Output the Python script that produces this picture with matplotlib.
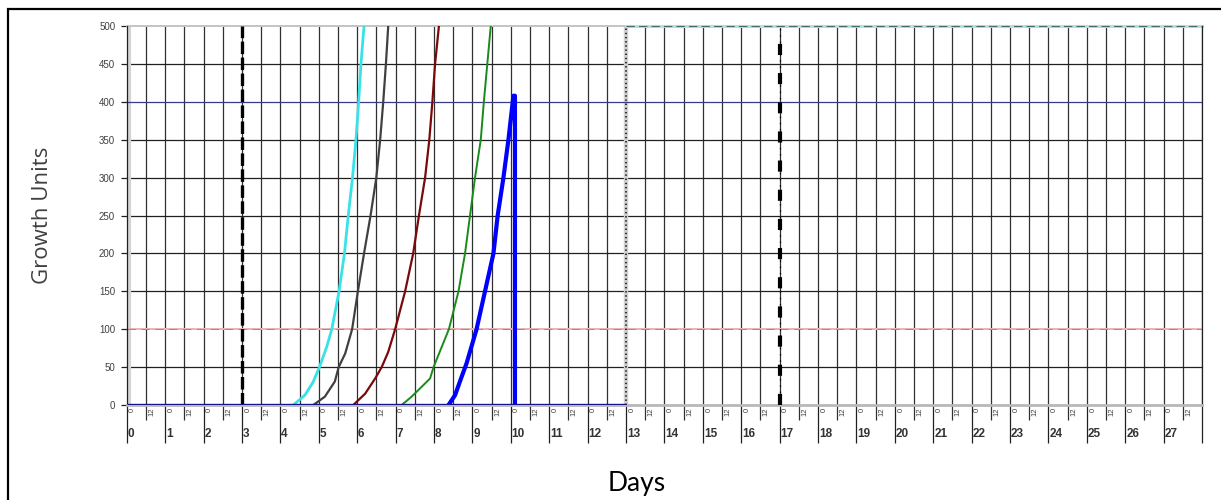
import numpy as np
import matplotlib
matplotlib.use("Agg")
import matplotlib.pyplot as plt
from matplotlib.patches import Rectangle
from matplotlib.transforms import offset_copy, ScaledTranslation

plt.rcParams["lines.scale_dashes"] = False

# growth curves: day of reading -> growth units
cyan_days = [4.34, 4.64, 4.85, 5.02, 5.21, 5.34, 5.53, 5.67, 5.77, 5.88, 5.97, 6.04, 6.10, 6.18]
cyan_vals = [0, 13, 30, 50, 77, 100, 150, 200, 250, 300, 350, 400, 450, 500]

grey_days = [4.86, 5.16, 5.42, 5.52, 5.69, 5.87, 6.02, 6.18, 6.35, 6.50, 6.60, 6.68, 6.75, 6.81]
grey_vals = [0, 11, 31, 50, 68, 100, 150, 200, 250, 300, 350, 400, 450, 500]

red_days = [5.90, 6.21, 6.47, 6.64, 6.81, 6.99, 7.25, 7.46, 7.61, 7.77, 7.88, 7.96, 8.03, 8.13]
red_vals = [0, 15, 35, 50, 70, 100, 150, 200, 250, 300, 350, 400, 450, 500]

green_days = [7.16, 7.42, 7.90, 7.99, 8.39, 8.64, 8.81, 8.94, 9.07, 9.22, 9.30, 9.39, 9.48]
green_vals = [0, 11, 35, 50, 100, 150, 200, 250, 300, 350, 400, 450, 500]

blue_days = [8.38, 8.55, 8.72, 8.85, 9.11, 9.33, 9.55, 9.66, 9.81, 9.94, 10.07, 10.11, 10.11]
blue_vals = [0, 13, 37, 55, 100, 150, 200, 250, 300, 350, 408, 408, 0]

baseline_days = [0, 13]
baseline_vals = [0, 0]

lower_limit = 100
upper_limit = 400
cap_value = 500
cap_start, cap_end = 13, 28

marker_day_a = 3     # dashed marker
marker_day_b = 13    # dotted marker
marker_day_c = 17    # dash-dot marker

n_days = 28
y_ticks = list(range(0, 501, 50))
day_labels = [str(d) for d in range(n_days)]
hour_labels = ["0", "12"]

W, H = 1221, 500
fig = plt.figure(figsize=(W / 100, H / 100), dpi=100)
ax = fig.add_axes([126.7 / W, 1 - 405 / H, (1202 - 126.7) / W, (405 - 26) / H])
ax.set_xlim(0, n_days)
ax.set_ylim(0, 500)

# grid: every half day vertically, every 50 units horizontally
ax.set_xticks(np.arange(0, n_days + 1, 1))
ax.set_xticks(np.arange(0.5, n_days, 1), minor=True)
ax.set_yticks(y_ticks)
ax.grid(True, which="both", axis="x", color="#303030", lw=0.9)
ax.grid(True, which="major", axis="y", color="#202020", lw=0.9)
for val, gl in zip(y_ticks, ax.get_ygridlines()):
    if val in (lower_limit, upper_limit, cap_value, 0):
        gl.set_visible(False)
ax.set_axisbelow(True)

ax.tick_params(axis="x", which="major", length=27.5, width=0.9, color="#202020",
               labelbottom=False)
ax.tick_params(axis="x", which="minor", length=11, width=0.9, color="#303030",
               labelbottom=False)
ax.tick_params(axis="y", length=4.3, width=0.9, color="#202020", pad=4,
               labelsize=7, labelcolor="#404040")
for lab in ax.get_yticklabels():
    lab.set_family("Liberation Sans")

ax.spines["top"].set_visible(False)
ax.spines["left"].set_color("#202020")
ax.spines["left"].set_linewidth(0.9)
ax.spines["right"].set_color("#202020")
ax.spines["right"].set_linewidth(0.9)
ax.spines["bottom"].set_color("#b8b8b8")
ax.spines["bottom"].set_linewidth(2.0)

# light grey bars beside the y axis and the day-13 marker
xa = ax.get_xaxis_transform()
shifted = xa + ScaledTranslation(2.5 / 100, 0, fig.dpi_scale_trans)
ax.plot([0, 0], [0, 1], color="#d4d4d4", lw=3, transform=shifted, zorder=1.5)
ax.axvline(marker_day_b, color="#d0d0d0", lw=3.2, zorder=1.5)

# top edge: grey over the first 13 days, cyan dashed afterwards
ax.plot([0, cap_start], [cap_value, cap_value], color="#c4c4c4", lw=1.4,
        clip_on=False, zorder=2)
ax.plot([cap_start, cap_end], [cap_value, cap_value], color="#a8e4e4", lw=2.2,
        clip_on=False, zorder=2)
ax.plot([cap_start, cap_end], [cap_value, cap_value], color="#4a6a6a", lw=0.8,
        ls=(0, (6, 3)), clip_on=False, zorder=2.1)

# limit lines
ax.axhline(lower_limit, color="#e8b4b4", lw=1.4, zorder=2)
ax.axhline(lower_limit, color="#909090", lw=0.7, ls=(0, (6, 4)), zorder=2.1)
ax.axhline(upper_limit, color="#3a3a8c", lw=0.9, zorder=2)

# vertical markers
ax.axvline(marker_day_a, color="black", lw=2.4, ls=(0, (9, 2.5)), zorder=4)
ax.axvline(marker_day_b, color="black", lw=1.1, ls=(0, (1, 2)), zorder=4)
ax.axvline(marker_day_c, color="black", lw=0.9, ls=(0, (1, 3.5)), zorder=4)
ax.axvline(marker_day_c, color="black", lw=3.0, ls=(0, (8, 13)), zorder=4)

# growth curves
ax.plot(cyan_days, cyan_vals, color="#38e2e6", lw=2.0, zorder=5)
ax.plot(grey_days, grey_vals, color="#404040", lw=1.6, zorder=5)
ax.plot(red_days, red_vals, color="#7a0a0a", lw=1.6, zorder=5)
ax.plot(green_days, green_vals, color="#1a8a1a", lw=1.4, zorder=5)
ax.plot(blue_days, blue_vals, color="#0000ff", lw=3.0, zorder=6)
ax.plot(baseline_days, baseline_vals, color="#12128c", lw=2.4, zorder=6,
        solid_capstyle="butt")

# hour labels (rotated) and day labels beneath the axis
hour_tr = offset_copy(xa, fig=fig, x=2.5, y=-3, units="dots")
day_tr = offset_copy(xa, fig=fig, x=1, y=-29, units="dots")
for d in range(n_days):
    for k, hl in enumerate(hour_labels):
        ax.text(d + 0.5 * k, 0, hl, transform=hour_tr, rotation=90,
                ha="left", va="top", fontsize=5.5, color="#404040",
                family="Liberation Sans")
    ax.text(d, 0, day_labels[d], transform=day_tr, ha="left", va="center",
            fontsize=8.5, fontweight="bold", color="#333333",
            family="Liberation Sans")

fig.text(43 / W, 1 - 215 / H, "Growth Units", rotation=90, ha="center",
         va="center", fontsize=16, color="#404040", family="Open Sans")
fig.text(637 / W, 1 - 483 / H, "Days", ha="center", va="center",
         fontsize=19, color="black", family="Lato")

# outer frame
fig.patches.append(Rectangle((8 / W, -0.2), 1.2, 1.2 - 9 / H, transform=fig.transFigure,
                             fill=False, edgecolor="black", lw=1.6))

fig.savefig("out.png", dpi=100)
